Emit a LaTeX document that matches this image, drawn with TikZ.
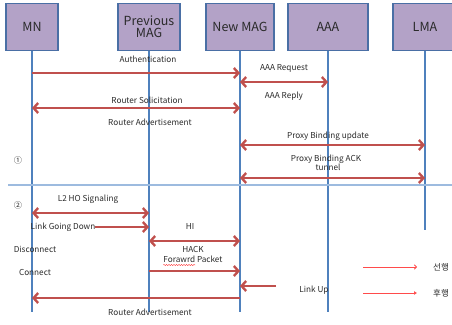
\documentclass[tikz,border=0pt]{standalone}
\usepackage{fontspec}
\setmainfont{Noto Sans CJK KR}
\usetikzlibrary{arrows.meta,calc,decorations.pathmorphing}
\definecolor{boxfill}{HTML}{B3A2C7}
\definecolor{boxline}{HTML}{4A6FA5}
\definecolor{life}{HTML}{4F81BD}
\definecolor{msgred}{HTML}{C0504D}
\definecolor{sepblue}{HTML}{9DBBDF}
\definecolor{legred}{HTML}{FF4B4B}
\definecolor{txt}{HTML}{2A2A2A}
\begin{document}
\begin{tikzpicture}[x=1pt,y=-1pt,
  actor/.style={draw=boxline, line width=1.3pt, fill=boxfill, minimum height=47pt, inner sep=0pt,
    font=\fontsize{12.5}{14}\selectfont, text=txt, align=center, anchor=north},
  lifeline/.style={draw=life, line width=2pt},
  msg/.style={draw=msgred, line width=2.4pt, -{Straight Barb[length=4.5pt,width=10pt]}},
  dmsg/.style={draw=msgred, line width=2.4pt, {Straight Barb[length=4.5pt,width=10pt]}-{Straight Barb[length=4.5pt,width=10pt]}},
  lbl/.style={font=\fontsize{8.2}{9}\selectfont, text=txt, inner sep=0pt},
  legarrow/.style={draw=legred, line width=0.9pt},
  legtext/.style={font=\fontsize{8.5}{10}\selectfont, text=txt, inner sep=0pt, anchor=west},
  squiggle/.style={draw=red!80, line width=0.4pt, decorate, decoration={snake, amplitude=0.6pt, segment length=2.5pt}},
]
\useasboundingbox (0,0) rectangle (452,324);
\begin{scope}
\clip (0,0) rectangle (452,324);
% actors
\node[actor, minimum width=52pt] (mn) at (32,3) {MN};
\node[actor, minimum width=62pt] (pmag) at (149,3) {Previous\\[-2pt]MAG};
\node[actor, minimum width=68pt] (nmag) at (240,3) {New MAG};
\node[actor, minimum width=80pt] (aaa) at (328,3) {AAA};
\node[actor, minimum width=64pt] (lma) at (425,3) {LMA};
% lifeline ends
\coordinate (mnE) at (mn.south |- 0,312);
\coordinate (pmagE) at (pmag.south |- 0,312);
\coordinate (nmagE) at (nmag.south |- 0,312);
\coordinate (aaaE) at (aaa.south |- 0,312);
\coordinate (lmaE) at (lma.south |- 0,230);
\draw[lifeline] (mn.south) -- (mnE);
\draw[lifeline] (pmag.south) -- (pmagE);
\draw[lifeline] (nmag.south) -- (nmagE);
\draw[lifeline] (aaa.south) -- (aaaE);
\draw[lifeline] (lma.south) -- (lmaE);
% separator
\coordinate (sepL) at (8,185);
\coordinate (sepR) at (452,185);
\draw[sepblue, line width=1.5pt] (sepL) -- (sepR);
\node[lbl] (c1) at (18,160) {①};
\node[lbl] (c2) at (18,205) {②};
% phase 1
\node[lbl] (auth) at (148,59) {Authentication};
\draw[msg] (mn |- 0,73) -- (nmag |- 0,73);
\node[lbl] (aaareq) at (284,68) {AAA Request};
\draw[dmsg] (nmag |- 0,82) -- (aaa |- 0,82);
\node[lbl] (aaarep) at (284,96) {AAA Reply};
\node[lbl] (rsol) at (147,100) {Router Solicitation};
\draw[dmsg] (mn |- 0,108) -- (nmag |- 0,108);
\node[lbl] (radv1) at (150,122) {Router Advertisement};
\node[lbl] (pbu) at (328,136) {Proxy Binding update};
\draw[dmsg] (nmag |- 0,145) -- (lma |- 0,145);
\node[lbl] (pba) at (326,159) {Proxy Binding ACK};
\node[lbl] (tun) at (328,167) {tunnel};
\draw[dmsg] (nmag |- 0,178) -- (lma |- 0,178);
% phase 2
\node[lbl] (l2ho) at (88,199) {L2 HO Signaling};
\draw[dmsg] (mn |- 0,213) -- (pmag |- 0,213);
\node[lbl] (lgd) at (63,227) {Link Going Down};
\draw[msg] (lgd.east) -- (pmag |- lgd.east);
\node[lbl] (hi) at (190,226) {HI};
\draw[dmsg] (pmag |- 0,241) -- (nmag |- 0,241);
\node[lbl] (disc) at (35,249) {Disconnect};
\node[lbl] (hack) at (193,249) {HACK};
\node[lbl] (fwd) at (193,259) {Forawrd Packet};
\draw[squiggle] ($(fwd.south west)+(0,2.5)$) -- ($(fwd.south west)+(32,2.5)$);
\draw[msg] (pmag |- 0,271) -- (nmag |- 0,271);
\node[lbl] (conn) at (35,272) {Connect};
\coordinate (luS) at (276,286);
\draw[msg] (luS) -- (nmag |- luS);
\node[lbl] (lup) at (314,290) {Link Up};
\draw[msg] (nmag |- 0,298) -- (mn |- 0,298);
\node[lbl] (radv2) at (150,312) {Router Advertisement};
% legend
\coordinate (l1s) at (363,267);
\coordinate (l1e) at (417,267);
\coordinate (l2s) at (363,293);
\coordinate (l2e) at (417,293);
\draw[legarrow, -{To[length=3pt,width=5pt]}] (l1s) -- (l1e);
\draw[legarrow, -{Latex[length=3pt,width=4pt]}] (l2s) -- (l2e);
\node[legtext] (lt1) at (433,267) {선행};
\node[legtext] (lt2) at (433,293) {후행};
\end{scope}
\end{tikzpicture}
\end{document}
